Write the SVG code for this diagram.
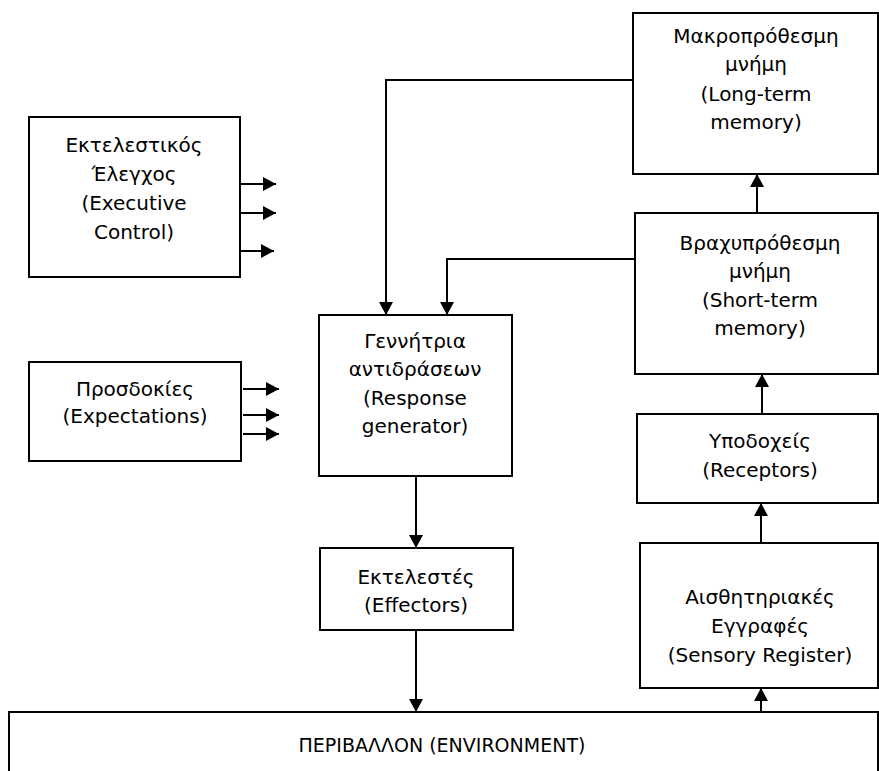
<svg xmlns="http://www.w3.org/2000/svg" width="879" height="771" viewBox="0 0 879 771">
<defs>
<marker id="ah" markerUnits="userSpaceOnUse" markerWidth="14" markerHeight="14" refX="13" refY="7" orient="auto">
<path d="M0,0 L13,7 L0,14 z" fill="#000"/>
</marker>
<style>
.box{fill:#fff;stroke:#000;stroke-width:2}
.t{font-family:"DejaVu Sans",Verdana,sans-serif;font-size:20px;fill:#000;text-anchor:middle}
.e{font-size:19px}
.c{fill:none;stroke:#000;stroke-width:2;marker-end:url(#ah)}
</style>
</defs>
<rect x="0" y="0" width="879" height="771" fill="#fff"/>
<g id="connectors">
<polyline class="c" points="633,80 386,80 386,315"/>
<polyline class="c" points="635,259 447,259 447,315"/>
<line class="c" x1="416" y1="476" x2="416" y2="548"/>
<line class="c" x1="416" y1="630" x2="416" y2="712"/>
<line class="c" x1="761" y1="712" x2="761" y2="688"/>
<line class="c" x1="761" y1="543" x2="761" y2="503"/>
<line class="c" x1="762" y1="414" x2="762" y2="374"/>
<line class="c" x1="757" y1="213" x2="757" y2="174"/>
<line class="c" x1="240" y1="184" x2="276" y2="184"/>
<line class="c" x1="240" y1="213" x2="276" y2="213"/>
<line class="c" x1="238" y1="251" x2="274" y2="251"/>
<line class="c" x1="243" y1="389" x2="279" y2="389"/>
<line class="c" x1="243" y1="415" x2="279" y2="415"/>
<line class="c" x1="243" y1="434" x2="279" y2="434"/>
</g>
<g id="long-term">
<rect class="box" x="633" y="13" width="245" height="161"/>
<text class="t" x="756" y="43">Μακροπρόθεσμη</text>
<text class="t" x="756" y="71">μνήμη</text>
<text class="t" x="756" y="101">(Long-term</text>
<text class="t" x="756" y="129">memory)</text>
</g>
<g id="executive">
<rect class="box" x="29" y="117" width="211" height="160"/>
<text class="t" x="134" y="152">Εκτελεστικός</text>
<text class="t" x="134" y="181">Έλεγχος</text>
<text class="t" x="134" y="210">(Executive</text>
<text class="t" x="134" y="239">Control)</text>
</g>
<g id="short-term">
<rect class="box" x="635" y="213" width="243" height="161"/>
<text class="t" x="760" y="250">Βραχυπρόθεσμη</text>
<text class="t" x="760" y="278">μνήμη</text>
<text class="t" x="760" y="307">(Short-term</text>
<text class="t" x="760" y="335">memory)</text>
</g>
<g id="response-generator">
<rect class="box" x="319" y="315" width="193" height="161"/>
<text class="t" x="415" y="348">Γεννήτρια</text>
<text class="t" x="415" y="376">αντιδράσεων</text>
<text class="t" x="415" y="405">(Response</text>
<text class="t" x="415" y="433">generator)</text>
</g>
<g id="expectations">
<rect class="box" x="29" y="362" width="212" height="99"/>
<text class="t" x="135" y="396">Προσδοκίες</text>
<text class="t" x="135" y="423">(Expectations)</text>
</g>
<g id="receptors">
<rect class="box" x="637" y="414" width="241" height="89"/>
<text class="t" x="760" y="448">Υποδοχείς</text>
<text class="t" x="760" y="477">(Receptors)</text>
</g>
<g id="effectors">
<rect class="box" x="320" y="548" width="193" height="82"/>
<text class="t" x="416" y="584">Εκτελεστές</text>
<text class="t" x="416" y="612">(Effectors)</text>
</g>
<g id="sensory-register">
<rect class="box" x="640" y="543" width="238" height="145"/>
<text class="t" x="760" y="604">Αισθητηριακές</text>
<text class="t" x="760" y="633">Εγγραφές</text>
<text class="t" x="760" y="662">(Sensory Register)</text>
</g>
<g id="environment">
<rect class="box" x="9" y="712" width="869" height="70"/>
<text class="t e" x="442" y="752">ΠΕΡΙΒΑΛΛΟΝ (ENVIRONMENT)</text>
</g>
</svg>
